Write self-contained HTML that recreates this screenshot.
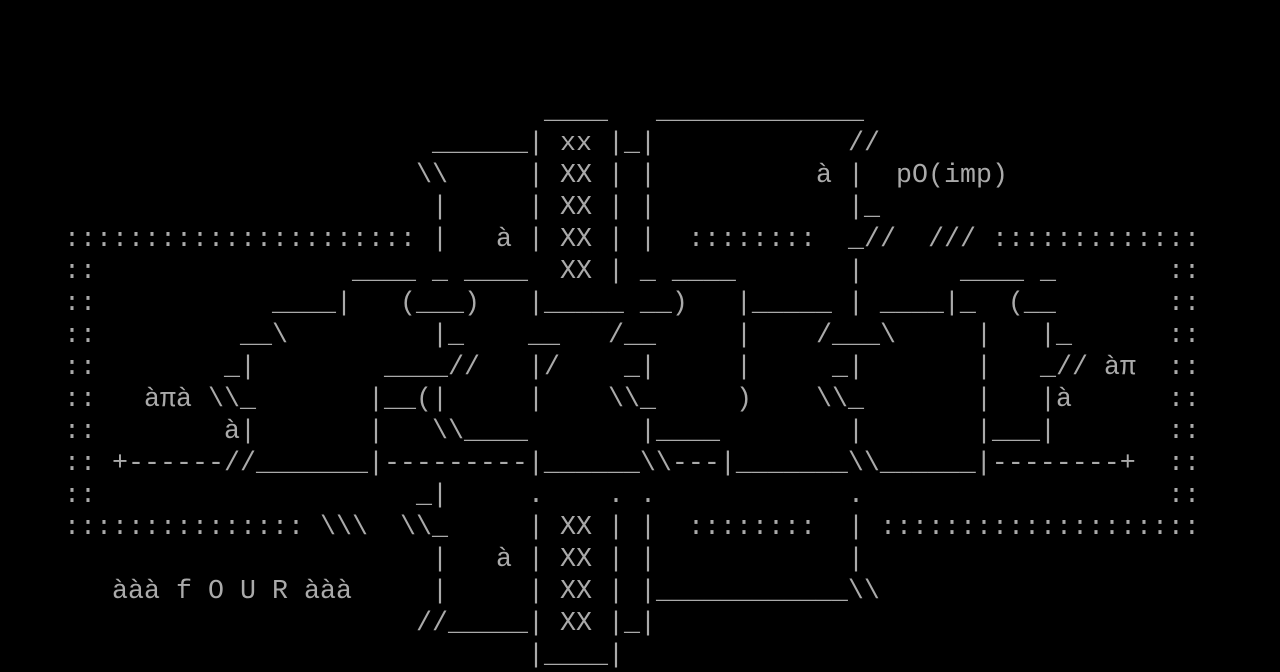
<!DOCTYPE html>
<html><head><meta charset="utf-8"><style>
html,body{margin:0;padding:0;background:#000;width:1280px;height:672px;overflow:hidden}
#c{position:relative;width:1280px;height:672px}
#c i{position:absolute;font-style:normal;white-space:pre;font-family:"Liberation Mono",monospace;font-size:26.66px;line-height:32px;color:#aaa;height:32px}
</style></head><body><div id="c">
<i style="left:544px;top:96px">____</i>
<i style="left:656px;top:96px">_____________</i>

<i style="left:432px;top:128px">______| xx |_|</i>
<i style="left:848px;top:128px">//</i>

<i style="left:416px;top:160px">\\</i>
<i style="left:528px;top:160px">| XX | |</i>
<i style="left:816px;top:160px">à |  pO(imp)</i>

<i style="left:432px;top:192px">|</i>
<i style="left:528px;top:192px">| XX | |</i>
<i style="left:848px;top:192px">|_</i>

<i style="left:64px;top:224px">::::::::::::::::::::::</i>
<i style="left:432px;top:224px">|   à | XX | |</i>
<i style="left:688px;top:224px">::::::::</i>
<i style="left:848px;top:224px">_//</i>
<i style="left:928px;top:224px">///</i>
<i style="left:992px;top:224px">:::::::::::::</i>

<i style="left:64px;top:256px">::</i>
<i style="left:352px;top:256px">____ _ ____  XX | _ ____</i>
<i style="left:848px;top:256px">|</i>
<i style="left:960px;top:256px">____ _</i>
<i style="left:1168px;top:256px">::</i>

<i style="left:64px;top:288px">::</i>
<i style="left:272px;top:288px">____|   (___)   |_____ __)   |_____ | ____|_  (__</i>
<i style="left:1168px;top:288px">::</i>

<i style="left:64px;top:320px">::</i>
<i style="left:240px;top:320px">__\</i>
<i style="left:432px;top:320px">|_</i>
<i style="left:528px;top:320px">__</i>
<i style="left:608px;top:320px">/__</i>
<i style="left:736px;top:320px">|</i>
<i style="left:816px;top:320px">/___\</i>
<i style="left:976px;top:320px">|</i>
<i style="left:1040px;top:320px">|_</i>
<i style="left:1168px;top:320px">::</i>

<i style="left:64px;top:352px">::</i>
<i style="left:224px;top:352px">_|</i>
<i style="left:384px;top:352px">____//</i>
<i style="left:528px;top:352px">|/</i>
<i style="left:624px;top:352px">_|</i>
<i style="left:736px;top:352px">|</i>
<i style="left:832px;top:352px">_|</i>
<i style="left:976px;top:352px">|</i>
<i style="left:1040px;top:352px">_// àπ</i>
<i style="left:1168px;top:352px">::</i>

<i style="left:64px;top:384px">::</i>
<i style="left:144px;top:384px">àπà \\_</i>
<i style="left:368px;top:384px">|__(|</i>
<i style="left:528px;top:384px">|</i>
<i style="left:608px;top:384px">\\_</i>
<i style="left:736px;top:384px">)</i>
<i style="left:816px;top:384px">\\_</i>
<i style="left:976px;top:384px">|</i>
<i style="left:1040px;top:384px">|à</i>
<i style="left:1168px;top:384px">::</i>

<i style="left:64px;top:416px">::</i>
<i style="left:224px;top:416px">à|</i>
<i style="left:368px;top:416px">|</i>
<i style="left:432px;top:416px">\\____</i>
<i style="left:640px;top:416px">|____</i>
<i style="left:848px;top:416px">|</i>
<i style="left:976px;top:416px">|___|</i>
<i style="left:1168px;top:416px">::</i>

<i style="left:64px;top:448px">::</i>
<i style="left:112px;top:448px">+------//_______|---------|______\\---|_______\\______|--------+</i>
<i style="left:1168px;top:448px">::</i>

<i style="left:64px;top:480px">::</i>
<i style="left:416px;top:480px">_|</i>
<i style="left:528px;top:480px">.</i>
<i style="left:608px;top:480px">. .</i>
<i style="left:848px;top:480px">.</i>
<i style="left:1168px;top:480px">::</i>

<i style="left:64px;top:512px">:::::::::::::::</i>
<i style="left:320px;top:512px">\\\</i>
<i style="left:400px;top:512px">\\_</i>
<i style="left:528px;top:512px">| XX | |</i>
<i style="left:688px;top:512px">::::::::</i>
<i style="left:848px;top:512px">|</i>
<i style="left:880px;top:512px">::::::::::::::::::::</i>

<i style="left:432px;top:544px">|   à | XX | |</i>
<i style="left:848px;top:544px">|</i>

<i style="left:112px;top:576px">ààà f O U R ààà</i>
<i style="left:432px;top:576px">|</i>
<i style="left:528px;top:576px">| XX | |____________\\</i>

<i style="left:416px;top:608px">//_____| XX |_|</i>

<i style="left:528px;top:640px">|____|</i>
</div></body></html>
